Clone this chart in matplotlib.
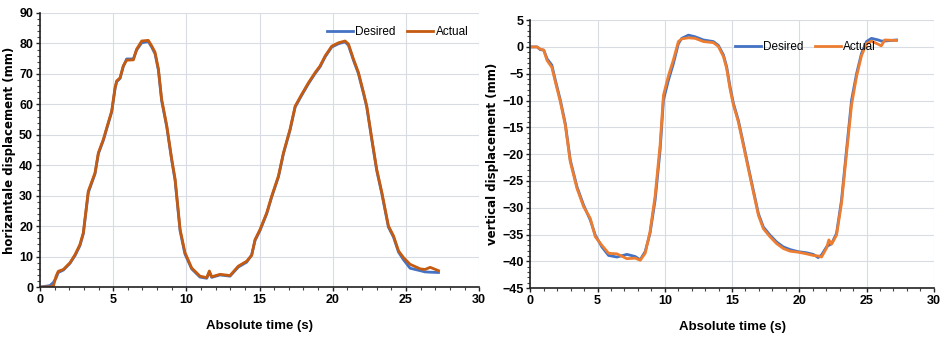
import matplotlib
matplotlib.use("Agg")
import matplotlib.pyplot as plt
from matplotlib.ticker import AutoMinorLocator, MultipleLocator

# horizontal displacement (left panel)
h_t = [0, 0.68, 0.91, 1.1, 1.25, 1.6, 2.05, 2.4, 2.73, 2.96, 3.3, 3.76, 3.99, 4.33,
       4.56, 4.9, 5.13, 5.24, 5.47, 5.69, 5.92, 6.38, 6.6, 6.95, 7.4, 7.63, 7.86,
       8.09, 8.31, 8.66, 9.0, 9.23, 9.57, 9.9, 10.36, 10.93, 11.39, 11.57, 11.73,
       12.3, 12.98, 13.55, 14.12, 14.46, 14.69, 15.03, 15.49, 15.83, 16.29, 16.63,
       17.08, 17.43, 17.88, 18.34, 18.79, 19.13, 19.48, 19.93, 20.39, 20.84, 21.07,
       21.41, 21.75, 22.1, 22.32, 22.67, 23.0, 23.35, 23.8, 24.15, 24.49, 24.83,
       25.28, 25.97, 26.3, 26.65, 27.22]
h_desired = [0, 0.5, 1.5, 3.0, 4.8, 5.6, 7.8, 10.4, 13.6, 17.5, 31.0, 37.2, 43.8, 48.2,
             52.0, 57.5, 65.2, 67.4, 68.5, 72.4, 74.9, 74.9, 77.8, 80.2, 80.6, 78.8, 76.6,
             71.2, 61.2, 52.6, 41.6, 35.0, 18.5, 10.9, 6.0, 3.3, 2.9, 4.9, 3.2,
             4.0, 3.6, 6.6, 8.2, 10.6, 15.3, 18.6, 24.1, 29.6, 36.2, 43.8,
             51.5, 59.1, 63.0, 66.8, 70.1, 72.3, 75.6, 78.8, 79.9, 80.5, 79.4,
             74.5, 70.1, 63.5, 59.1, 48.2, 38.3, 30.7, 19.7, 16.4, 11.5, 9.0,
             6.2, 5.4, 5.0, 4.9, 4.8]
h_actual = [0, 0.1, 0.2, 3.6, 5.2, 5.8, 8.0, 10.7, 14.0, 17.8, 31.5, 37.5, 44.1, 48.5,
            52.3, 57.8, 65.5, 67.7, 68.7, 72.6, 74.5, 74.6, 78.1, 80.8, 81.0, 79.2, 77.1,
            71.6, 61.7, 53.0, 42.0, 35.5, 19.0, 11.4, 6.3, 3.6, 3.1, 5.3, 3.4,
            4.2, 3.8, 6.9, 8.5, 10.4, 15.6, 18.9, 24.4, 29.9, 36.5, 44.1,
            51.8, 59.4, 63.3, 67.1, 70.4, 72.6, 75.9, 79.1, 80.2, 80.8, 79.8,
            74.9, 70.5, 63.9, 59.5, 48.6, 38.7, 31.1, 20.1, 16.8, 11.9, 9.7,
            7.5, 6.0, 5.8, 6.5, 5.4]

# vertical displacement (right panel)
v_t = [0, 0.5, 0.74, 1.0, 1.24, 1.6, 1.86, 2.23, 2.6, 2.97, 3.22, 3.47, 3.96, 4.46,
       4.83, 5.32, 5.82, 6.44, 7.18, 7.8, 8.17, 8.54, 8.9, 9.28, 9.65, 9.9, 10.27,
       10.64, 11.01, 11.26, 11.76, 12.25, 12.87, 13.61, 13.98, 14.36, 14.6, 14.85,
       15.1, 15.47, 15.84, 16.21, 16.58, 16.96, 17.33, 17.82, 18.32, 18.81, 19.31,
       19.93, 20.54, 21.04, 21.41, 21.66, 22.03, 22.2, 22.4, 22.77, 23.14, 23.51,
       23.89, 24.26, 24.63, 25.0, 25.37, 25.87, 26.1, 26.36, 27.23]
v_desired = [0.0, 0.0, -0.5, -0.6, -2.2, -3.4, -6.2, -9.9, -14.3, -21.1, -23.6, -26.1, -29.5,
             -32.3, -35.1, -37.3, -38.9, -39.2, -38.7, -39.1, -39.7, -38.2, -34.8, -28.6,
             -19.3, -9.9, -6.2, -3.1, 0.6, 1.6, 2.2, 1.9, 1.3, 1.0, 0.3, -1.5, -3.7,
             -7.4, -10.5, -13.7, -18.0, -22.4, -26.7, -31.1, -33.6, -35.1, -36.4, -37.3,
             -37.8, -38.2, -38.4, -38.7, -39.3, -38.8, -37.3, -37.0, -36.7, -34.8, -28.6,
             -19.3, -9.9, -5.0, -1.2, 1.0, 1.6, 1.3, 1.1, 1.1, 1.3]
v_actual = [0.0, 0.0, -0.4, -0.6, -2.5, -3.8, -6.5, -10.2, -14.6, -21.4, -23.9, -26.4, -29.8,
            -32.0, -35.4, -37.0, -38.5, -38.6, -39.5, -39.4, -39.8, -38.5, -34.5, -27.8,
            -18.3, -9.0, -5.4, -2.4, 1.0, 1.5, 1.7, 1.6, 1.0, 0.8, 0.1, -1.8, -4.0,
            -7.8, -10.8, -14.0, -18.3, -22.7, -27.0, -31.4, -33.9, -35.4, -36.7, -37.6,
            -38.1, -38.3, -38.6, -38.9, -39.0, -39.2, -37.5, -36.0, -36.8, -35.1, -29.2,
            -20.0, -10.8, -5.5, -1.6, 0.6, 1.1, 0.5, 0.2, 1.3, 1.2]

narrow = ["Liberation Sans", "DejaVu Sans"]

fig = plt.figure(figsize=(9.47, 3.41), dpi=100)
ax1 = fig.add_axes([0.0422, 0.158, 0.4638, 0.804])
ax2 = fig.add_axes([0.560, 0.155, 0.426, 0.786])


def style(ax, ylim, ystep, ylabel):
    ax.set_xlim(0, 30)
    ax.set_ylim(*ylim)
    ax.xaxis.set_major_locator(MultipleLocator(5))
    ax.yaxis.set_major_locator(MultipleLocator(ystep))
    ax.xaxis.set_minor_locator(AutoMinorLocator(5))
    ax.yaxis.set_minor_locator(AutoMinorLocator(5))
    ax.grid(True, which="major", color="#d9dde3", linewidth=0.8)
    ax.set_axisbelow(True)
    for s in ("top", "right"):
        ax.spines[s].set_visible(False)
    for s in ("left", "bottom"):
        ax.spines[s].set_color("#222222")
        ax.spines[s].set_linewidth(1.2)
    ax.tick_params(which="major", length=3, width=1, color="#222222", pad=2)
    ax.tick_params(which="minor", length=2, width=0.8, color="#444444")
    for lab in ax.get_xticklabels() + ax.get_yticklabels():
        lab.set_family(narrow)
        lab.set_fontsize(9)
        lab.set_fontweight("bold")
    ax.set_xlabel("Absolute time (s)", family=narrow, fontsize=9.5, fontweight="bold",
                  labelpad=10)
    ax.set_ylabel(ylabel, family="DejaVu Sans", fontsize=8.5, fontweight="bold",
                  labelpad=2)


ax1.plot(h_t, h_desired, color="#4472C4", linewidth=2, label="Desired")
ax1.plot(h_t, h_actual, color="#C55A11", linewidth=2, label="Actual")
style(ax1, (0, 90), 10, "horizantale displacement (mm)")
ax1.legend(loc="upper right", bbox_to_anchor=(1.0, 0.99), frameon=False, ncol=2,
           prop={"family": narrow, "size": 8.5}, handlelength=2.2, handletextpad=0.2,
           columnspacing=1.0)

ax2.plot(v_t, v_desired, color="#4472C4", linewidth=2, label="Desired")
ax2.plot(v_t, v_actual, color="#ED7D31", linewidth=2, label="Actual")
style(ax2, (-45, 5), 5, "vertical displacement (mm)")
ax2.legend(loc="upper left", bbox_to_anchor=(0.48, 0.96), frameon=False, ncol=2,
           prop={"family": narrow, "size": 8.5}, handlelength=2.2, handletextpad=0.2,
           columnspacing=1.0)

fig.savefig("out.png", dpi=100)
